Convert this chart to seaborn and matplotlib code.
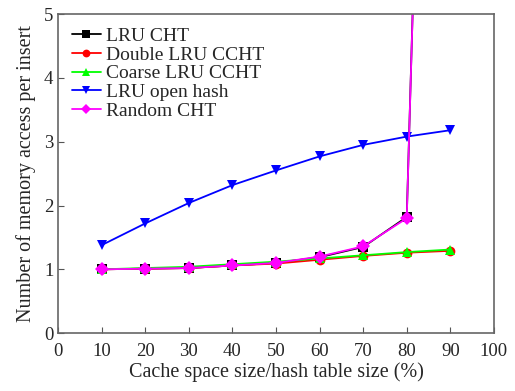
import numpy as np, pandas as pd, matplotlib.pyplot as plt
import seaborn as sns

x = [10, 20, 30, 40, 50, 60, 70, 80, 90]
lru_cht = [1.00, 1.01, 1.02, 1.06, 1.10, 1.19, 1.35, 1.82, 25.5]
double_lru = [1.00, 1.01, 1.02, 1.06, 1.09, 1.15, 1.21, 1.26, 1.29]
coarse_lru = [1.00, 1.02, 1.04, 1.08, 1.12, 1.17, 1.22, 1.27, 1.31]
lru_open = [1.38, 1.72, 2.04, 2.32, 2.55, 2.77, 2.95, 3.08, 3.18]
random_cht = [1.00, 1.01, 1.02, 1.06, 1.10, 1.20, 1.36, 1.80, 25.5]

names = ["LRU CHT", "Double LRU CCHT", "Coarse LRU CCHT", "LRU open hash", "Random CHT"]
series = [lru_cht, double_lru, coarse_lru, lru_open, random_cht]
colors = ["black", "red", "#00ff00", "blue", "magenta"]
marks = ["s", "o", "^", "v", "D"]

df = pd.DataFrame([{"x": xi, "y": yi, "s": n} for n, ys in zip(names, series) for xi, yi in zip(x, ys)])

sns.set_style("ticks")
plt.rcParams['font.family'] = ['Liberation Serif', 'DejaVu Serif']
fig = plt.figure(figsize=(5.15, 3.91), dpi=100)
ax = fig.add_axes([0.113, 0.148, 0.846, 0.816])
sns.lineplot(data=df, x="x", y="y", hue="s", style="s", hue_order=names, style_order=names,
             palette=dict(zip(names, colors)), markers=dict(zip(names, marks)), dashes=False,
             markersize=7, markeredgewidth=0, linewidth=1.3, ax=ax)
ax.set_xlim(0, 100); ax.set_ylim(0, 5)
ax.set_xticks(range(0, 101, 10)); ax.set_yticks(range(0, 6))
ax.tick_params(direction="in", labelsize=13.5, length=4, color="#555555")
ax.tick_params(axis="x", pad=7)
for sp in ax.spines.values():
    sp.set_color("#666666"); sp.set_linewidth(1.2)
ax.set_xlabel("Cache space size/hash table size (%)", fontsize=14.5, labelpad=2)
ax.set_ylabel("Number of memory access per insert", fontsize=14.5, labelpad=6)
leg = ax.legend(frameon=False, loc="upper left", fontsize=14, handlelength=1.5, handletextpad=0.25,
                labelspacing=0.05, borderaxespad=0.3, markerscale=0.8)
fig.savefig("out.png", dpi=100)
